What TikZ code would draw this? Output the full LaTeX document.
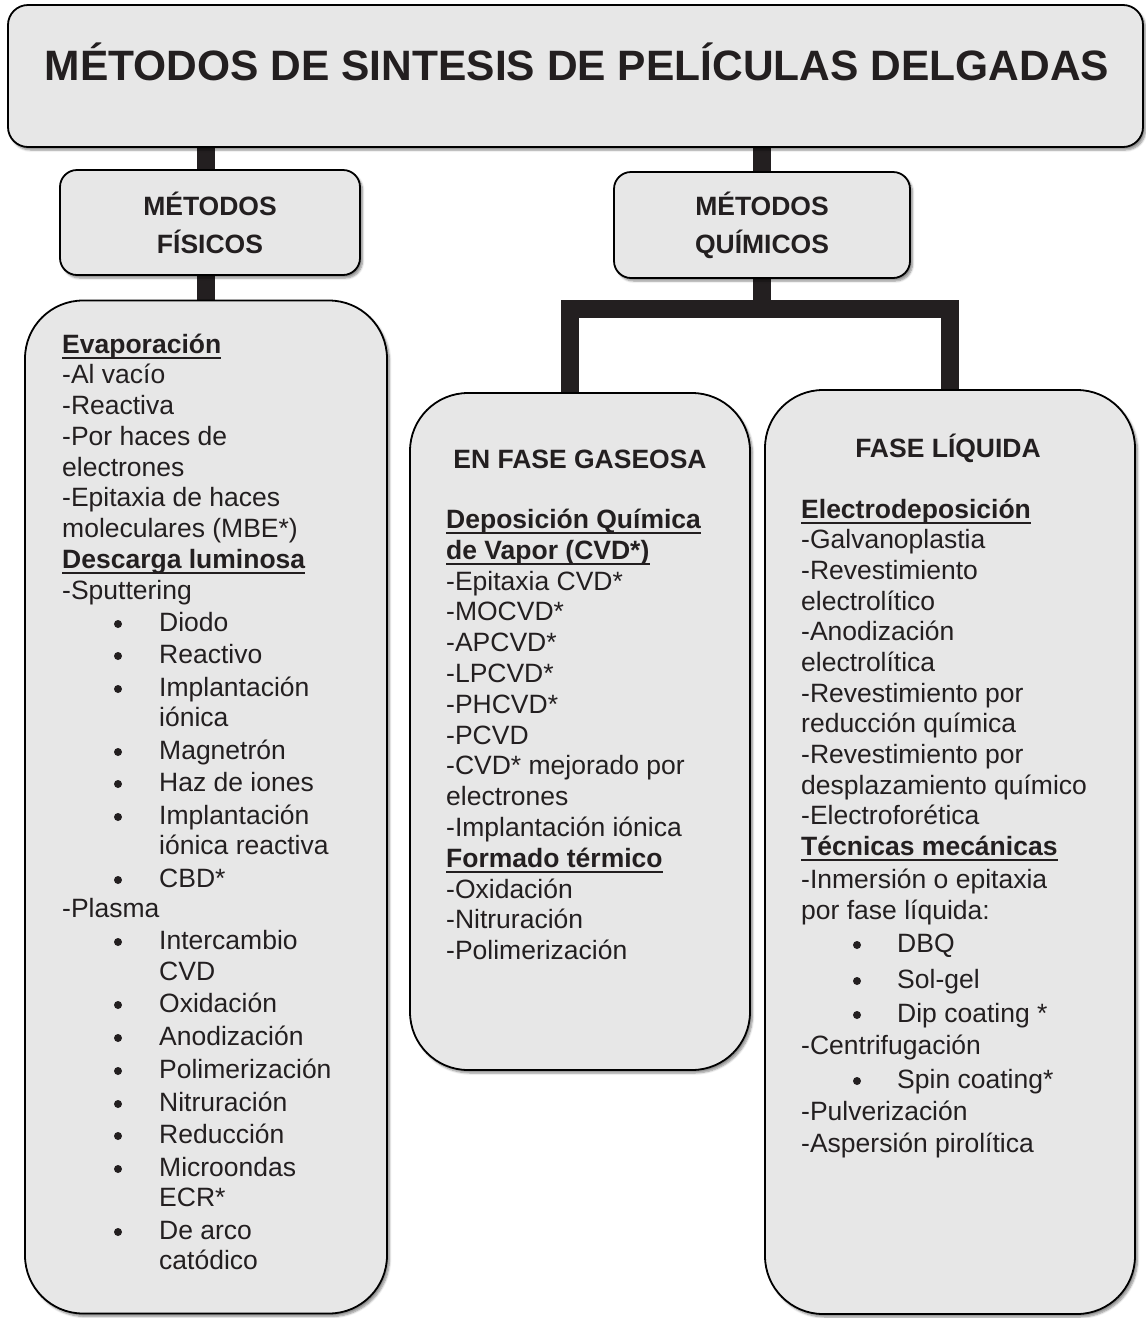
\documentclass[tikz,border=0pt]{standalone}
\usepackage{fontspec}
\setmainfont{Liberation Sans}
\usetikzlibrary{shadows.blur}
\definecolor{boxfill}{RGB}{231,231,231}
\definecolor{ink}{RGB}{35,31,32}
\pgfdeclarelayer{bg}
\pgfsetlayers{bg,main}
\begin{document}
\begin{tikzpicture}[x=1pt,y=-1pt,
  box/.style={draw=black, line width=1.8pt, fill=boxfill,
    blur shadow={shadow xshift=2.5pt, shadow yshift=-3pt, shadow blur steps=6, shadow opacity=45}},
  bar/.style={line width=18pt, draw=ink, line join=miter},
  body/.style={inner sep=0pt, anchor=base west, text=ink, font=\fontsize{26.5}{30}\selectfont},
  head/.style={body, font=\fontsize{26.5}{30}\selectfont\bfseries},
  boxhead/.style={inner sep=0pt, anchor=base, text=ink, font=\fontsize{26.5}{30}\selectfont\bfseries},
  uline/.style={line width=2.2pt, draw=ink},
  dot/.style={fill=ink}
]
\useasboundingbox (0,0) rectangle (1146,1318);

% boxes
\node[box, rounded corners=20pt, minimum width=1135pt, minimum height=142pt] (title) at (575.5,76) {};
\node[inner sep=0pt, anchor=base, text=ink, font=\fontsize{42.5}{50}\selectfont\bfseries] (ttl) at (577,80) {MÉTODOS DE SINTESIS DE PELÍCULAS DELGADAS};

\node[box, rounded corners=17pt, minimum width=300pt, minimum height=105pt,
  align=center, text=ink, font=\fontsize{26.5}{38}\selectfont\bfseries] (fis) at (210,222.5) {MÉTODOS\\FÍSICOS};
\node[box, rounded corners=17pt, minimum width=296pt, minimum height=106pt,
  align=center, text=ink, font=\fontsize{26.5}{38}\selectfont\bfseries] (qui) at (762,225) {MÉTODOS\\QUÍMICOS};

\node[box, rounded corners=58pt, minimum width=362pt, minimum height=1013pt] (left) at (206,807) {};
\node[box, rounded corners=58pt, minimum width=340pt, minimum height=677pt] (gas) at (580,731.5) {};
\node[box, rounded corners=58pt, minimum width=370pt, minimum height=924pt] (liq) at (950,852) {};

% connectors
\coordinate (j) at (qui.south |- 0,309);
\begin{pgfonlayer}{bg}
\draw[bar] (left.north |- title.south) -- (left.north |- fis.north);
\draw[bar] (left.north |- fis.south) -- (left.north);
\draw[bar] (qui.north |- title.south) -- (qui.north);
\draw[bar] (qui.south) -- (j);
\draw[bar] ([xshift=-10pt]gas.north) |- (j) -| (liq.north);
\end{pgfonlayer}

% ---------- left box ----------
\node[head] (eva) at (62,353.5) {Evaporación};
\draw[uline] ([yshift=-4.5pt]eva.base west) -- ([yshift=-4.5pt]eva.base east);
\node[head] (des) at (62,568.5) {Descarga luminosa};
\draw[uline] ([yshift=-4.5pt]des.base west) -- ([yshift=-4.5pt]des.base east);
\foreach \yy/\tx [count=\i] in {375/-Al vacío, 406/-Reactiva, 437/-Por haces de, 468/electrones,
  498/-Epitaxia de haces, 529/moleculares (MBE*), 591/-Sputtering, 909/-Plasma}
  \node[body] (la\i) at (62,\yy+8.5) {\tx};
\foreach \yy/\tx [count=\i] in {623/Diodo, 655/Reactivo, 688/Implantación, 751/Magnetrón,
  783/Haz de iones, 816/Implantación, 879/CBD*, 941/Intercambio, 1004/Oxidación,
  1037/Anodización, 1070/Polimerización, 1103/Nitruración, 1135/Reducción,
  1168/Microondas, 1231/De arco}
  {\node[body] (lb\i) at (159,\yy+8.5) {\tx};
   \fill[dot] (118,\yy+1) circle (4pt);}
\foreach \yy/\tx [count=\i] in {718/iónica, 846/iónica reactiva, 972/CVD, 1198/ECR*, 1261/catódico}
  \node[body] (lc\i) at (159,\yy+8.5) {\tx};

% ---------- gas box ----------
\node[boxhead] (gh) at (580,468.5) {EN FASE GASEOSA};
\node[head] (cvd1) at (446,528.5) {Deposición Química};
\draw[uline] ([yshift=-4.5pt]cvd1.base west) -- ([yshift=-4.5pt]cvd1.base east);
\node[head] (cvd2) at (446,559.3) {de Vapor (CVD*)};
\draw[uline] ([yshift=-4.5pt]cvd2.base west) -- ([yshift=-4.5pt]cvd2.base east);
\node[head] (ft) at (446,867.3) {Formado térmico};
\draw[uline] ([yshift=-4.5pt]ft.base west) -- ([yshift=-4.5pt]ft.base east);
\foreach \yy/\tx [count=\i] in {581.6/-Epitaxia CVD*, 612.4/-MOCVD*, 643.2/-APCVD*, 674/-LPCVD*,
  704.8/-PHCVD*, 735.6/-PCVD, 766.4/-CVD* mejorado por, 797.2/electrones,
  828/-Implantación iónica, 889.6/-Oxidación, 920.4/-Nitruración, 951.2/-Polimerización}
  \node[body] (g\i) at (446,\yy+8.5) {\tx};

% ---------- liquid box ----------
\node[boxhead] (lh) at (948,457.5) {FASE LÍQUIDA};
\node[head] (ele) at (801,518.5) {Electrodeposición};
\draw[uline] ([yshift=-4.5pt]ele.base west) -- ([yshift=-4.5pt]ele.base east);
\node[head] (tec) at (801,855.5) {Técnicas mecánicas};
\draw[uline] ([yshift=-4.5pt]tec.base west) -- ([yshift=-4.5pt]tec.base east);
\foreach \yy/\tx [count=\i] in {540/-Galvanoplastia, 571/-Revestimiento, 602/electrolítico,
  632/-Anodización, 663/electrolítica, 694/-Revestimiento por, 724/reducción química,
  755/-Revestimiento por, 786/desplazamiento químico, 816/-Electroforética,
  880/-Inmersión o epitaxia, 911/por fase líquida:, 1046/-Centrifugación,
  1112/-Pulverización, 1144/-Aspersión pirolítica}
  \node[body] (q\i) at (801,\yy+8.5) {\tx};
\foreach \yy/\tx [count=\i] in {944/DBQ, 980/Sol-gel, 1014/Dip coating *, 1080/Spin coating*}
  {\node[body] (qb\i) at (897,\yy+8.5) {\tx};
   \fill[dot] (857,\yy+1) circle (4pt);}
\end{tikzpicture}
\end{document}
